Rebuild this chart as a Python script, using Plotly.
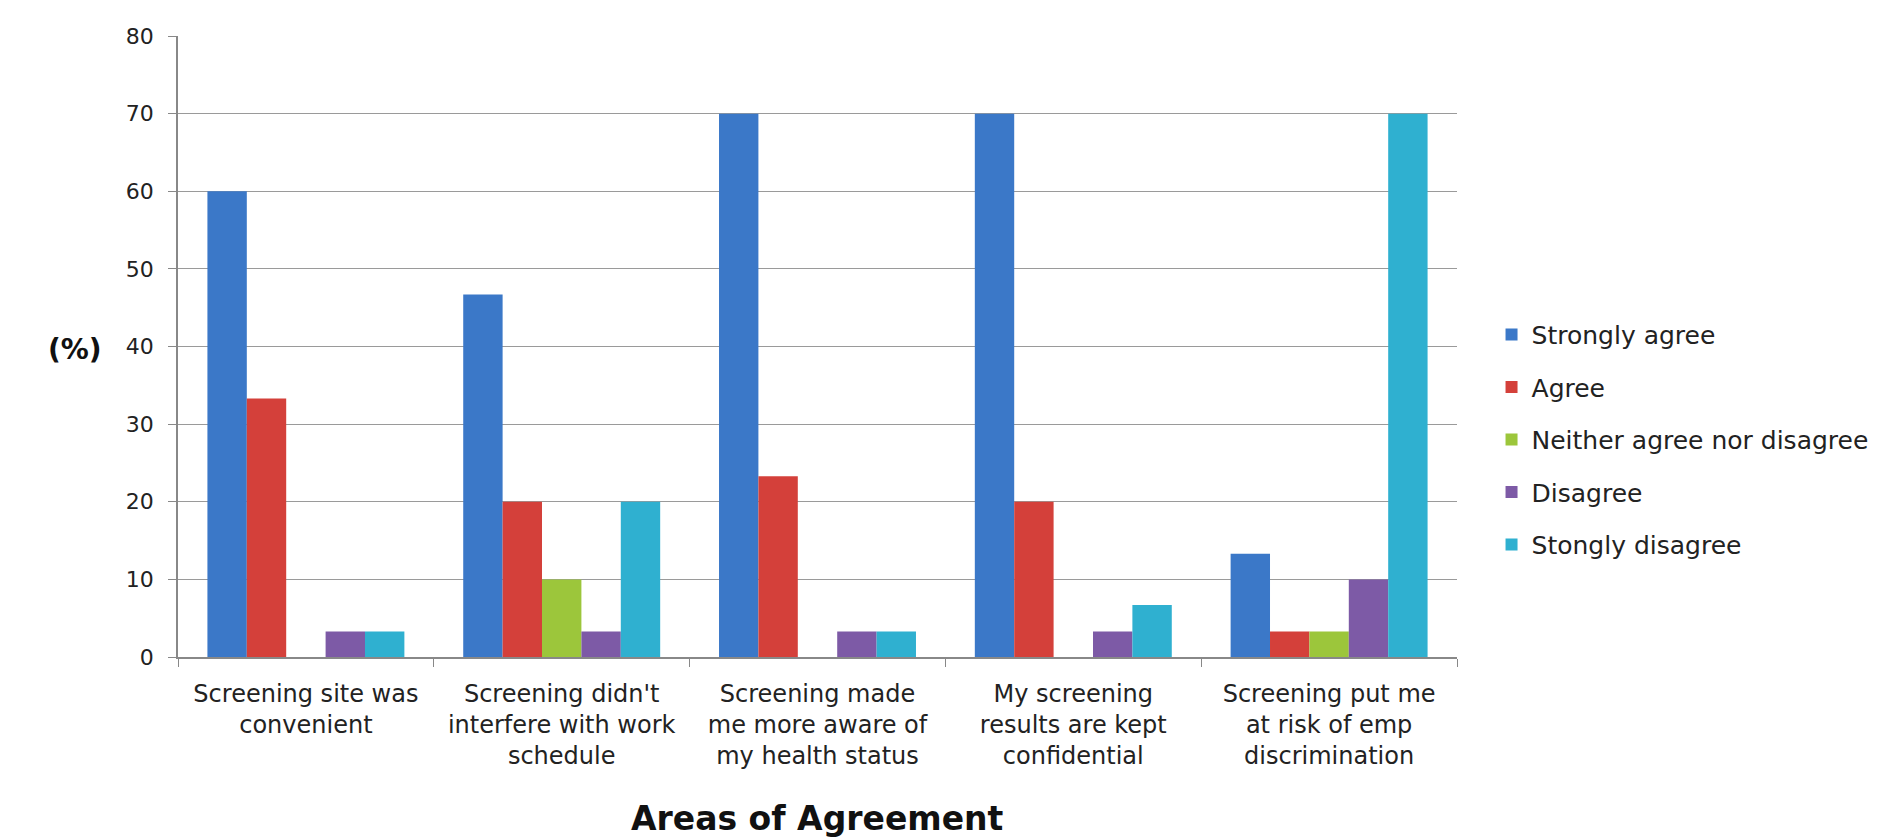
import plotly.graph_objects as go

categories = [
    "Screening site was<br>convenient",
    "Screening didn't<br>interfere with work<br>schedule",
    "Screening made<br>me more aware of<br>my health status",
    "My screening<br>results are kept<br>confidential",
    "Screening put me<br>at risk of emp<br>discrimination",
]
series_names = ["Strongly agree", "Agree", "Neither agree nor disagree", "Disagree", "Stongly disagree"]
strongly_agree = [60, 46.7, 70, 70, 13.3]
agree = [33.3, 20, 23.3, 20, 3.3]
neither = [0, 10, 0, 0, 3.3]
disagree = [3.3, 3.3, 3.3, 3.3, 10]
strongly_disagree = [3.3, 20, 3.3, 6.7, 70]
y_ticks = [0, 10, 20, 30, 40, 50, 60, 70, 80]

colors = ["#3b78c8", "#d4403a", "#9cc63b", "#7d5aa6", "#2fb0d0"]

fig = go.Figure()
for i, (name, vals) in enumerate(zip(series_names, [strongly_agree, agree, neither, disagree, strongly_disagree])):
    fig.add_trace(go.Bar(
        x=categories, y=vals, name=name,
        marker=dict(color=colors[i], line=dict(width=0)),
        legendgroup=name,
    ))

font_family = "DejaVu Sans, sans-serif"
fig.update_layout(
    width=1891, height=838,
    margin=dict(l=178, r=434, t=36, b=181),
    paper_bgcolor="white", plot_bgcolor="white",
    barmode="group", bargap=0.23, bargroupgap=0,
    font=dict(family=font_family, size=22, color="#222"),
    legend=dict(
        x=1.027, xanchor="left", y=0.35, yanchor="middle",
        font=dict(size=25, color="#222"),
        tracegroupgap=17, itemsizing="constant",
    ),
    showlegend=True,
    xaxis=dict(
        showline=True, linecolor="#888", linewidth=1.5,
        ticks="outside", tickson="boundaries", ticklen=8, tickcolor="#888",
        tickfont=dict(size=24), showgrid=False, ticklabelstandoff=14,
    ),
    yaxis=dict(
        range=[0, 80], tickvals=y_ticks,
        showline=True, linecolor="#888", linewidth=1.5,
        ticks="outside", ticklen=8, tickcolor="#888",
        showgrid=True, gridcolor="#9a9a9a", gridwidth=1.2,
        tickfont=dict(size=22), ticklabelstandoff=10, zeroline=False,
    ),
    annotations=[
        dict(text="<b>Areas of Agreement</b>", xref="paper", yref="paper",
             x=0.5, y=-0.26, yanchor="middle", showarrow=False,
             font=dict(size=33, color="#111")),
        dict(text="<b>(%)</b>", xref="paper", yref="paper",
             x=-0.058, xanchor="right", y=0.495, yanchor="middle", showarrow=False,
             font=dict(size=28, color="#111")),
    ],
)
fig.write_html("out.html")
